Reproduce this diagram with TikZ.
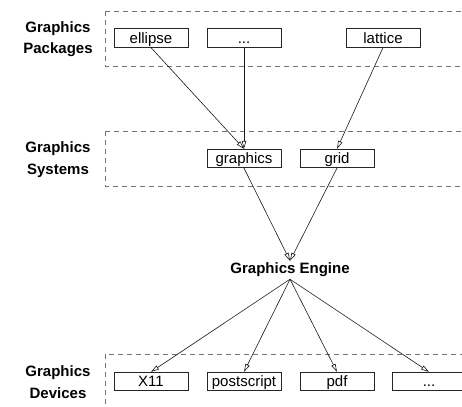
\documentclass[tikz,border=0pt]{standalone}
\usepackage{fontspec}
\setmainfont{Liberation Sans}
\usetikzlibrary{arrows.meta}
\begin{document}
\begin{tikzpicture}[x=1pt,y=-1pt,
  layer/.style={draw=black!55,dash pattern=on 5pt off 4pt,line width=0.8pt},
  box/.style={draw=black!85,line width=0.7pt,rectangle,minimum width=74pt,minimum height=18.5pt,inner sep=0pt,
    text height=10.5pt,text depth=0pt,font=\fontsize{15}{18}\selectfont},
  tag/.style={align=center,font=\fontsize{15}{21.5}\selectfont\bfseries},
  flow/.style={draw=black!90,line width=0.6pt,-{Triangle[open,length=8pt,width=4.5pt]}},
  every node/.style={text=black}]
\useasboundingbox (0,0) rectangle (462,406);
\begin{scope}
\clip (0,0) rectangle (462,406);
% dashed bands for the three layers
\draw[layer] (105,11) rectangle (480,66);
\draw[layer] (105,131) rectangle (480,186);
\draw[layer] (105,354) rectangle (480,420);
% packages
\node[box] (ellipse) at (151,38) {ellipse};
\node[box] (pkgmore) at (244,38) {...};
\node[box] (lattice) at (383,38) {lattice};
% systems
\node[box] (graphics) at (244,158.5) {graphics};
\node[box] (grid) at (337,158.5) {grid};
% engine
\node[font=\fontsize{15}{18}\selectfont\bfseries,minimum height=18pt,inner sep=0pt] (engine) at (290,270) {Graphics Engine};
% devices
\node[box] (x11) at (151,381.5) {X11};
\node[box] (ps) at (244,381.5) {postscript};
\node[box] (pdf) at (337,381.5) {pdf};
\node[box] (devmore) at (429,381.5) {...};
% layer titles
\node[tag] (tpkg) at (58,39) {Graphics\\Packages};
\node[tag] (tsys) at (58,159.5) {Graphics\\Systems};
\node[tag] (tdev) at (58,382) {Graphics\\Devices};
% connectors
\draw[flow] (ellipse.south) -- (graphics.north);
\draw[flow] (pkgmore.south) -- (graphics.north);
\draw[flow] (lattice.south) -- (grid.north);
\draw[flow] (graphics.south) -- (engine.north);
\draw[flow] (grid.south) -- (engine.north);
\draw[flow] (engine.south) -- (x11.north);
\draw[flow] (engine.south) -- (ps.north);
\draw[flow] (engine.south) -- (pdf.north);
\draw[flow] (engine.south) -- (devmore.north);
\end{scope}
\end{tikzpicture}
\end{document}
